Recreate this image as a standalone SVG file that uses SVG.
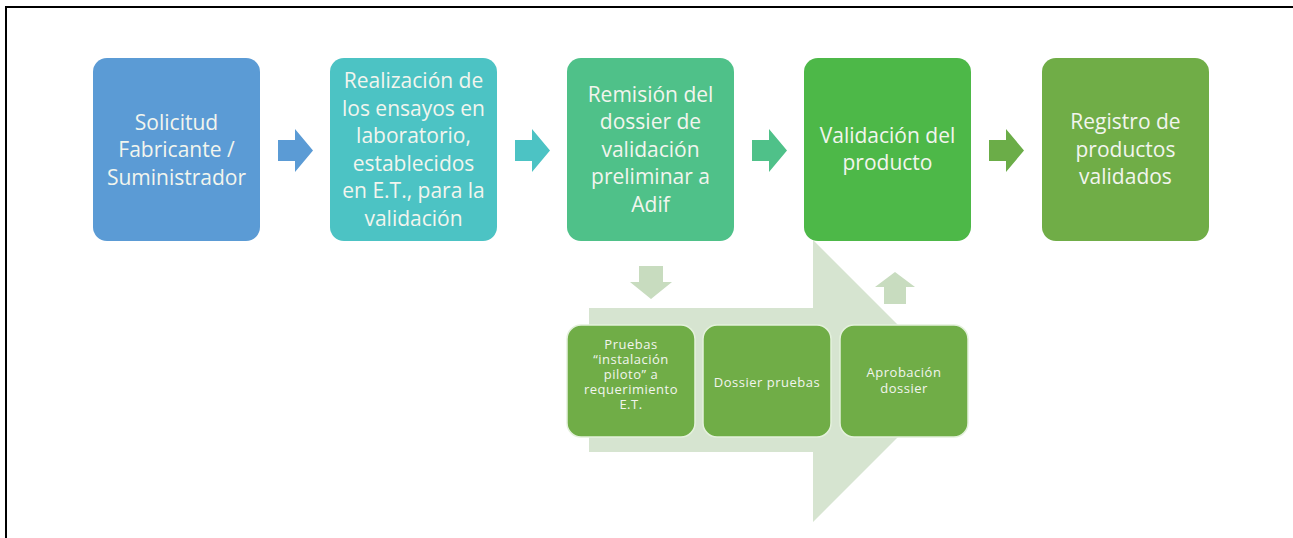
<svg xmlns="http://www.w3.org/2000/svg" width="1293" height="538" viewBox="0 0 1293 538">
<style>
.t{font-family:"Open Sans","Liberation Sans",sans-serif;fill:#f2f5ee;text-anchor:middle}
.big{font-size:21px}
.sm{font-size:13px;letter-spacing:0.5px}
.box{stroke:none}
.sub{fill:#70ad47;stroke:#e4f1dc;stroke-width:1.5}
</style>
<rect x="0" y="0" width="1293" height="538" fill="#ffffff"/>
<path d="M6,538 V7 H1293" fill="none" stroke="#000" stroke-width="2"/>

<g id="connectors">
  <polygon id="bigArrow" points="589,308 813,308 813,240 954,381 813,522 813,452 589,452" fill="#d6e4d0"/>
  <polygon points="278,140 295,140 295,129 313,150.5 295,172 295,161 278,161" fill="#5b9bd5"/>
  <polygon points="515,140 532,140 532,129 550,150.5 532,172 532,161 515,161" fill="#4cc3c4"/>
  <polygon points="752,140 769,140 769,129 787,150.5 769,172 769,161 752,161" fill="#4fc189"/>
  <polygon points="989,140 1006,140 1006,129 1024,150.5 1006,172 1006,161 989,161" fill="#6bad48"/>
  <polygon points="639,266 663,266 663,282 672,282 651,299 630,282 639,282" fill="#c8dcbf"/>
  <polygon points="884,304 906,304 906,287 915,287 895,272 875,287 884,287" fill="#c8dcbf"/>
</g>

<g id="n1">
  <rect class="box" x="93" y="58" width="167" height="183" rx="14" fill="#5b9bd5"/>
  <text class="t big" x="176.5" y="129.5">Solicitud</text>
  <text class="t big" x="176.5" y="157">Fabricante /</text>
  <text class="t big" x="176.5" y="184.5">Suministrador</text>
</g>
<g id="n2">
  <rect class="box" x="330" y="58" width="167" height="183" rx="14" fill="#4cc3c4"/>
  <text class="t big" x="413.5" y="88">Realización de</text>
  <text class="t big" x="413.5" y="115.5">los ensayos en</text>
  <text class="t big" x="413.5" y="143">laboratorio,</text>
  <text class="t big" x="413.5" y="170.5">establecidos</text>
  <text class="t big" x="413.5" y="198">en E.T., para la</text>
  <text class="t big" x="413.5" y="225.5">validación</text>
</g>
<g id="n3">
  <rect class="box" x="567" y="58" width="167" height="183" rx="14" fill="#4fc189"/>
  <text class="t big" x="650.5" y="101.5">Remisión del</text>
  <text class="t big" x="650.5" y="129">dossier de</text>
  <text class="t big" x="650.5" y="156.5">validación</text>
  <text class="t big" x="650.5" y="184">preliminar a</text>
  <text class="t big" x="650.5" y="211.5">Adif</text>
</g>
<g id="n4">
  <rect class="box" x="804" y="58" width="167" height="183" rx="14" fill="#4db848"/>
  <text class="t big" x="887.5" y="143">Validación del</text>
  <text class="t big" x="887.5" y="170">producto</text>
</g>
<g id="n5">
  <rect class="box" x="1042" y="58" width="167" height="183" rx="14" fill="#70ad47"/>
  <text class="t big" x="1125.5" y="129">Registro de</text>
  <text class="t big" x="1125.5" y="156.5">productos</text>
  <text class="t big" x="1125.5" y="184">validados</text>
</g>

<g id="s1">
  <rect class="sub" x="567" y="325" width="128" height="112" rx="14"/>
  <text class="t sm" x="631" y="349">Pruebas</text>
  <text class="t sm" x="631" y="364">“instalación</text>
  <text class="t sm" x="631" y="379">piloto” a</text>
  <text class="t sm" x="631" y="394">requerimiento</text>
  <text class="t sm" x="631" y="409">E.T.</text>
</g>
<g id="s2">
  <rect class="sub" x="703" y="325" width="128" height="112" rx="14"/>
  <text class="t sm" x="767" y="386.5">Dossier pruebas</text>
</g>
<g id="s3">
  <rect class="sub" x="840" y="325" width="128" height="112" rx="14"/>
  <text class="t sm" x="904" y="377">Aprobación</text>
  <text class="t sm" x="904" y="393">dossier</text>
</g>
</svg>
